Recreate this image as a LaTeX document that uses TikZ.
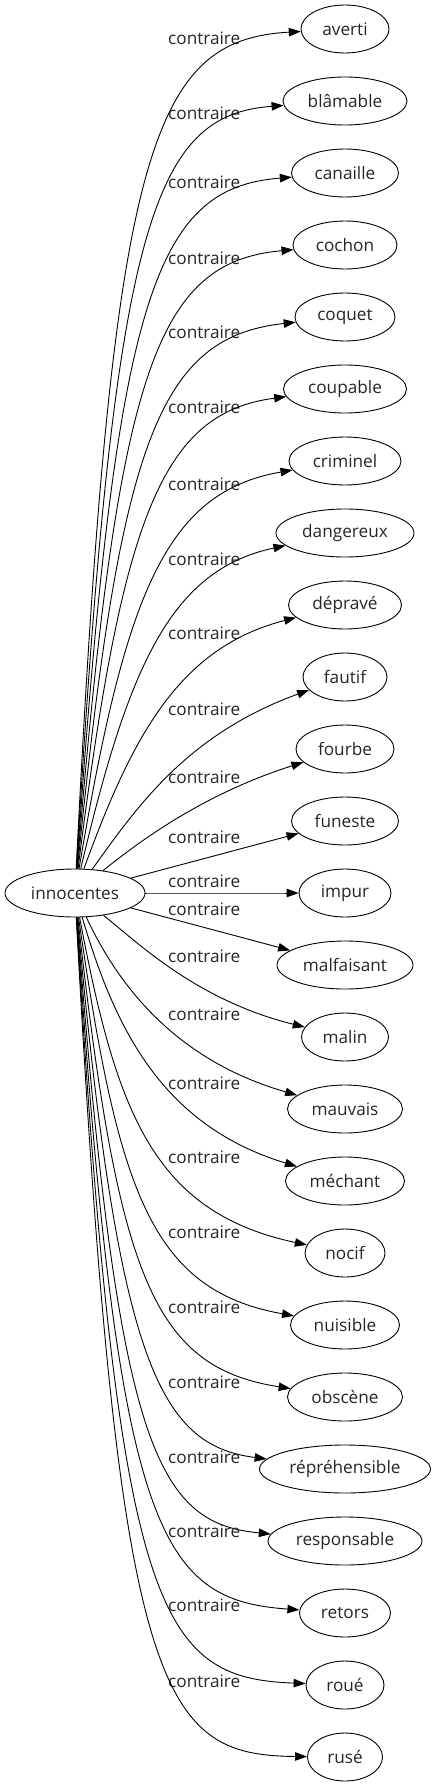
\documentclass[tikz,border=0pt]{standalone}
\usepackage{fontspec}
\setmainfont{Open Sans}
\usetikzlibrary{arrows.meta,shapes.geometric}
\definecolor{GraphInk}{HTML}{262626}
\tikzset{
  word/.style={ellipse,draw=black,line width=0.9pt,inner sep=0pt,minimum height=48pt,text=GraphInk,font=\fontsize{17.2}{20}\selectfont},
  relation/.style={inner sep=0pt,anchor=west,text=GraphInk,font=\fontsize{17.2}{20}\selectfont},
  link/.style={-{Triangle[length=12pt,width=8.5pt]},line width=0.9pt,draw=black}
}

\begin{document}
\begin{tikzpicture}[x=1pt,y=-1pt]
  \useasboundingbox (0,0) rectangle (436,1787);
  \node[word,minimum width=140pt] (innocentes) at (75,893) {innocentes};
  % name/text/width/label y/first control/second control
  \foreach \nm/\txt/\nwd/\ly/\ax/\ay/\bx/\by [count=\k from 0] in {
    averti/averti/88/38/112/150/150/40,
    blamable/blâmable/124/113/114/225/152/115,
    canaille/canaille/107/182/116/297/154/188,
    cochon/cochon/104/258/118/370/156/262,
    coquet/coquet/100/332/120/443/158/337,
    coupable/coupable/123/407/122/518/161/413,
    criminel/criminel/112/484/125/595/165/492,
    dangereux/dangereux/138/559/128/668/170/570,
    deprave/dépravé/113/633/131/740/177/648,
    fautif/fautif/84/709/135/810/185/735,
    fourbe/fourbe/98/777/135/845/200/795,
    funeste/funeste/107/837/165/869/255/845,
    impur/impur/92/881/165/893/255/893,
    malfaisant/malfaisant/136/909/165/917/255/941,
    malin/malin/87/956/135/940/195/1000,
    mauvais/mauvais/115/1014/118/985/175/1060,
    mechant/méchant/119/1083/114/1025/160/1125,
    nocif/nocif/80/1157/116/1110/152/1212,
    nuisible/nuisible/109/1232/118/1190/150/1290,
    obscene/obscène/115/1307/118/1275/152/1367,
    reprehensible/répréhensible/171/1382/118/1360/158/1445,
    responsable/responsable/154/1457/118/1445/155/1523,
    retors/retors/91/1531/118/1530/157/1600,
    roue/roué/78/1605/118/1615/158/1678,
    ruse/rusé/75/1681/118/1700/160/1755%
  }{
    \node[word,minimum width=\nwd pt] (\nm) at (345,{29+72*\k}) {\txt};
    \node[relation] (lab-\nm) at (168,\ly) {contraire};
    \draw[link] (innocentes) .. controls (\ax,\ay) and (\bx,\by) .. (\nm);
  }
\end{tikzpicture}
\end{document}
